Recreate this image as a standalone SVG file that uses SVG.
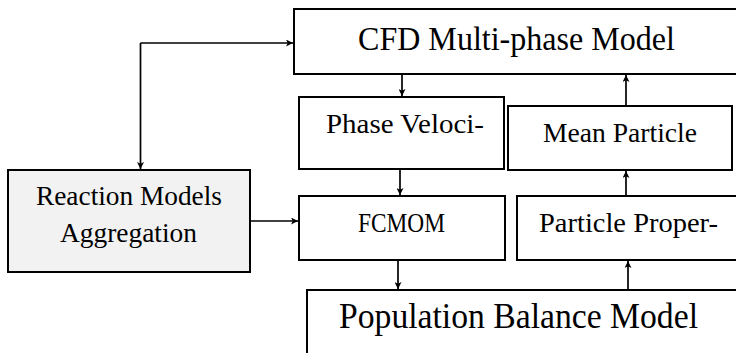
<svg xmlns="http://www.w3.org/2000/svg" width="736" height="353" viewBox="0 0 736 353">
<style>
.box{fill:#fff;stroke:#000;stroke-width:2}
.grey{fill:#f2f2f2}
.t{font-family:"Liberation Serif","DejaVu Serif",serif;fill:#000}
.c{fill:none;stroke:#000;stroke-width:1.7}
</style>
<defs>
<marker id="ah" viewBox="0 0 10 10" refX="10" refY="5" markerWidth="7" markerHeight="7" markerUnits="userSpaceOnUse" orient="auto">
<path d="M0,0 L10,5 L0,10 L2.5,5 z" fill="#000"/>
</marker>
</defs>
<g id="cfd"><rect class="box" x="294" y="9" width="446" height="65"/><text class="t" x="358" y="50" font-size="34" textLength="317" lengthAdjust="spacingAndGlyphs">CFD Multi-phase Model</text></g>
<g id="phase"><rect class="box" x="299" y="97" width="205" height="72"/><text class="t" x="326" y="133" font-size="27.5" textLength="158" lengthAdjust="spacingAndGlyphs">Phase Veloci-</text></g>
<g id="mean"><rect class="box" x="508" y="106" width="224" height="64"/><text class="t" x="543" y="142" font-size="27" textLength="154" lengthAdjust="spacingAndGlyphs">Mean Particle</text></g>
<g id="reaction"><rect class="box grey" x="8" y="170" width="242" height="102"/><text class="t" x="36" y="205" font-size="28" textLength="186" lengthAdjust="spacingAndGlyphs">Reaction Models</text><text class="t" x="60" y="242" font-size="28" textLength="137" lengthAdjust="spacingAndGlyphs">Aggregation</text></g>
<g id="fcmom"><rect class="box" x="299" y="196" width="206" height="64"/><text class="t" x="358" y="232" font-size="27" textLength="87" lengthAdjust="spacingAndGlyphs">FCMOM</text></g>
<g id="particle"><rect class="box" x="517" y="196" width="220" height="64"/><text class="t" x="539" y="232" font-size="27" textLength="179" lengthAdjust="spacingAndGlyphs">Particle Proper-</text></g>
<g id="pbm"><rect class="box" x="307" y="290" width="440" height="80"/><text class="t" x="339" y="328" font-size="35" textLength="359" lengthAdjust="spacingAndGlyphs">Population Balance Model</text></g>
<g id="connectors">
<path class="c" d="M140.5,43 H293" marker-end="url(#ah)"/>
<path class="c" d="M140.5,43 V169" marker-end="url(#ah)"/>
<path class="c" d="M250,221 H298" marker-end="url(#ah)"/>
<path class="c" d="M402,75 V96" marker-end="url(#ah)"/>
<path class="c" d="M400,170 V195" marker-end="url(#ah)"/>
<path class="c" d="M398,261 V289" marker-end="url(#ah)"/>
<path class="c" d="M626,105 V75" marker-end="url(#ah)"/>
<path class="c" d="M626,195 V171" marker-end="url(#ah)"/>
<path class="c" d="M628,289 V261" marker-end="url(#ah)"/>
</g>
</svg>
